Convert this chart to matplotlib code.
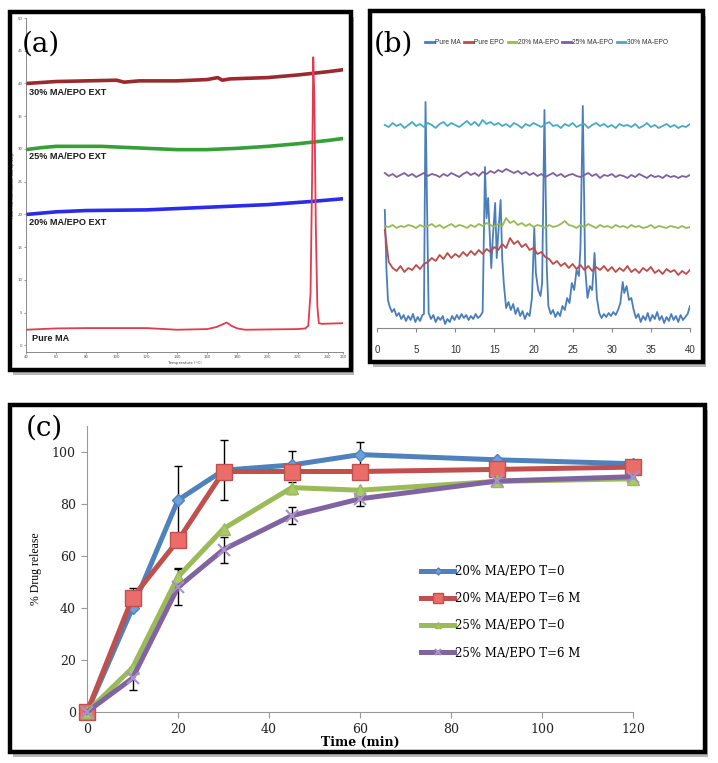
import numpy as np
import matplotlib
matplotlib.use('Agg')
import matplotlib.pyplot as plt
from matplotlib.patches import Rectangle

W, H = 718, 763

# ---- (a) DSC thermograms ----
dsc30_t = [40, 60, 80, 100, 105, 115, 140, 160, 167, 170, 175, 200, 220, 240, 250]
dsc30_y = [40.0, 40.3, 40.4, 40.5, 40.2, 40.4, 40.4, 40.6, 40.9, 40.5, 40.7, 40.9, 41.3, 41.8, 42.1]
dsc25_t = [40, 50, 60, 90, 110, 140, 160, 180, 200, 220, 240, 250]
dsc25_y = [29.9, 30.2, 30.4, 30.4, 30.2, 29.9, 29.9, 30.1, 30.4, 30.8, 31.3, 31.6]
dsc20_t = [40, 60, 80, 120, 160, 200, 230, 250]
dsc20_y = [20.0, 20.4, 20.6, 20.7, 21.1, 21.5, 22.0, 22.4]
ma_t = [40, 60, 80, 120, 140, 160, 166, 170, 173, 176, 180, 185, 220, 225, 227, 228.5,
        229.5, 230.3, 231, 232, 233, 234, 236, 250]
ma_y = [2.4, 2.6, 2.65, 2.65, 2.4, 2.5, 2.8, 3.2, 3.5, 3.0, 2.6, 2.4, 2.5, 2.6, 3.0, 8.0,
        25.0, 44.0, 38.0, 18.0, 6.0, 3.4, 3.3, 3.4]

# ---- (b) XRD patterns ----
xrd_x = np.arange(1.0, 40.01, 0.5)
xrd_30 = [203, 201, 205, 202, 204, 200, 203, 206, 202, 204, 201, 205, 203, 200, 204, 206, 202, 205, 203, 201,
          204, 207, 203, 206, 202, 208, 204, 206, 203, 205, 202, 204, 201, 205, 203, 200, 204, 202, 205, 203,
          201, 204, 206, 202, 203, 200, 204, 202, 205, 201, 203, 204, 200, 203, 205, 202, 204, 201, 203, 200,
          204, 202, 203, 201, 204, 200, 202, 205, 201, 203, 200, 202, 204, 201, 203, 200, 202, 201, 204]
xrd_25 = [155, 152, 154, 151, 153, 155, 152, 154, 151, 153, 155, 152, 154, 153, 151, 154, 152, 155, 153, 151,
          154, 156, 153, 155, 152, 156, 154, 157, 155, 158, 156, 159, 157, 155, 157, 154, 156, 153, 155, 152,
          154, 151, 153, 155, 152, 154, 151, 153, 154, 152, 151, 153, 155, 152, 154, 150, 153, 152, 154, 151,
          153, 152, 150, 153, 151, 154, 152, 150, 153, 151, 152, 150, 153, 151, 152, 150, 152, 151, 153]
xrd_20 = [102, 101, 103, 100, 102, 101, 103, 102, 100, 103, 101, 102, 104, 101, 103, 100, 102, 104, 101, 103,
          102, 100, 103, 101, 104, 102, 105, 103, 101, 104, 102, 110, 105, 107, 103, 105, 102, 104, 101, 103,
          102, 100, 103, 101, 102, 104, 107, 103, 102, 100, 103, 101, 104, 102, 100, 103, 101, 102, 100, 103,
          101, 102, 100, 103, 101, 102, 100, 101, 103, 100, 102, 101, 100, 102, 101, 100, 102, 100, 101]
xrd_epo = [98, 66, 60, 57, 62, 56, 60, 58, 63, 59, 64, 66, 70, 67, 73, 69, 75, 70, 74, 71,
           76, 72, 77, 73, 78, 74, 79, 76, 81, 78, 84, 80, 90, 84, 87, 81, 84, 78, 80, 74,
           76, 71, 69, 64, 67, 62, 65, 60, 64, 59, 63, 58, 62, 57, 61, 58, 62, 57, 61, 56,
           60, 57, 62, 56, 59, 55, 60, 57, 61, 55, 58, 54, 59, 56, 58, 53, 57, 54, 58]
ma_x = [1.0, 1.2, 1.4, 1.6, 1.9, 2.2, 2.5, 2.8, 3.1, 3.4, 3.7, 4.0, 4.3, 4.6, 4.9, 5.2, 5.5, 5.8,
        6.0, 6.2, 6.4, 6.6, 6.9, 7.2, 7.5, 7.8, 8.1, 8.4, 8.7, 9.0, 9.3, 9.6, 9.9, 10.2, 10.5, 10.8,
        11.1, 11.4, 11.7, 12.0, 12.3, 12.6, 12.9, 13.2, 13.5, 13.8, 14.0, 14.2, 14.4, 14.6, 14.8,
        15.1, 15.3, 15.5, 15.8, 16.0, 16.2, 16.5, 16.8, 17.1, 17.4, 17.7, 18.0, 18.3, 18.6, 18.9,
        19.2, 19.5, 19.8, 20.1, 20.3, 20.6, 20.9, 21.1, 21.4, 21.7, 21.9, 22.2, 22.5, 22.8, 23.1,
        23.4, 23.7, 24.0, 24.3, 24.6, 24.9, 25.2, 25.5, 25.8, 26.0, 26.3, 26.6, 26.9, 27.2, 27.5,
        27.8, 28.1, 28.4, 28.7, 29.0, 29.3, 29.6, 29.9, 30.2, 30.5, 30.8, 31.1, 31.4, 31.6, 31.9,
        32.2, 32.5, 32.8, 33.1, 33.4, 33.7, 34.0, 34.3, 34.6, 34.9, 35.2, 35.5, 35.8, 36.1, 36.4,
        36.7, 37.0, 37.3, 37.6, 37.9, 38.2, 38.5, 38.8, 39.1, 39.4, 39.7, 40.0]
ma_i = [118, 60, 28, 22, 16, 19, 12, 15, 9, 13, 7, 12, 8, 14, 6, 11, 7, 13,
        14, 226, 120, 15, 9, 13, 6, 11, 8, 12, 4, 9, 6, 12, 8, 13, 9, 14,
        10, 13, 8, 12, 9, 14, 10, 12, 16, 161, 110, 130, 95, 60, 90,
        125, 70, 95, 128, 70, 45, 20, 26, 18, 24, 14, 20, 12, 17, 9,
        15, 12, 30, 100, 55, 38, 32, 45, 218, 60, 22, 14, 18, 11, 16,
        12, 22, 18, 30, 25, 45, 38, 58, 52, 80, 222, 60, 30, 42, 38,
        75, 30, 15, 10, 14, 11, 15, 12, 16, 13, 18, 25, 46, 35, 42,
        28, 30, 18, 10, 14, 6, 12, 8, 15, 7, 13, 9, 16, 8, 12,
        5, 11, 7, 14, 8, 12, 6, 13, 8, 11, 14, 22]

# ---- (c) drug release ----
time_min = [0, 10, 20, 30, 45, 60, 90, 120]
rel_20_t0 = [0, 40, 81.5, 93, 95, 99, 97, 95.5]
rel_20_6m = [0, 44, 66, 92.5, 92.5, 92.5, 93.3, 94.2]
rel_25_t0 = [0, 17, 52, 70.5, 86.3, 85.3, 88.7, 89.7]
rel_25_6m = [0, 13, 48, 62.5, 75.5, 82, 88.8, 90.5]
err_20_t0 = [0, 0, 13, 11.6, 5.5, 5, 0, 0]
err_20_6m = [0, 3.7, 0, 0, 0, 0, 0, 0]
err_25_t0 = [0, 0, 3.5, 0, 2.3, 0, 0, 0]
err_25_6m = [0, 4.5, 7, 5, 3.3, 2.8, 0, 0]
rel_labels = ['20% MA/EPO T=0', '20% MA/EPO T=6 M', '25% MA/EPO T=0', '25% MA/EPO T=6 M']

NARROW = ['DejaVu Sans Condensed', 'Liberation Sans Narrow', 'Liberation Sans']
SERIF = ['DejaVu Serif']


def px_rect(x0, y0, x1, y1):
    return [x0 / W, 1 - y1 / H, (x1 - x0) / W, (y1 - y0) / H]


def frame(fig, x0, y0, x1, y1):
    # shadow, white card, black border
    fig.add_artist(Rectangle(((x0 + 3) / W, 1 - (y1 + 5) / H), (x1 - x0) / W, (y1 - y0) / H,
                             transform=fig.transFigure, fc='#b8b8b8', ec='none', zorder=-3))
    fig.add_artist(Rectangle((x0 / W, 1 - y1 / H), (x1 - x0) / W, (y1 - y0) / H,
                             transform=fig.transFigure, fc='white', ec='none', zorder=-2))
    fig.add_artist(Rectangle((x0 / W, 1 - y1 / H), (x1 - x0) / W, (y1 - y0) / H,
                             transform=fig.transFigure, fill=False, ec='black', lw=3.2, zorder=20))


fig = plt.figure(figsize=(W / 100, H / 100), dpi=100)
frame(fig, 10, 12, 351, 370)
frame(fig, 370, 11, 703, 362)
frame(fig, 10, 405, 705, 752)

# ---------- panel (a) ----------
axA = fig.add_axes(px_rect(26, 18, 343, 352))
axA.patch.set_alpha(0)
axA.plot(dsc30_t, dsc30_y, color='#9a2a2e', lw=2.6)
axA.plot(dsc25_t, dsc25_y, color='#35a035', lw=2.6)
axA.plot(dsc20_t, dsc20_y, color='#2b2bea', lw=2.6)
axA.plot(ma_t, ma_y, color='#e23a50', lw=1.3)
axA.set_xlim(40, 250)
axA.set_ylim(-1, 50)
axA.set_xticks([40, 60, 80, 100, 120, 140, 160, 180, 200, 220, 240, 250])
axA.set_yticks(range(0, 51, 5))
axA.tick_params(labelsize=2.8, length=1.5, width=0.4, colors='#555555', pad=1)
for s in ['top', 'right']:
    axA.spines[s].set_visible(False)
for s in ['left', 'bottom']:
    axA.spines[s].set_color('#777777')
    axA.spines[s].set_linewidth(0.6)
axA.set_xlabel('Temperature (°C)', fontsize=2.8, labelpad=1, color='#444444')
axA.set_ylabel('Heat Flow (Normalized) Exo Up (W/g)', fontsize=2.5, labelpad=2, color='#444444')
lab = dict(fontsize=6.6, fontweight='bold', family=NARROW, stretch='condensed',
           color='#1a1a1a', va='center')
axA.text(42, 38.7, '30% MA/EPO EXT', **lab)
axA.text(42, 28.8, '25% MA/EPO EXT', **lab)
axA.text(42, 18.7, '20% MA/EPO EXT', **lab)
axA.text(44, 1.1, 'Pure MA', **lab)
fig.text(22 / W, 1 - 44 / H, '(a)', fontsize=20, family=SERIF, va='center')

# ---------- panel (b) ----------
axB = fig.add_axes(px_rect(377, 60, 690, 328))
axB.patch.set_alpha(0)
hb = []
hb += axB.plot(ma_x, ma_i, color='#4a7ebb', lw=1.3, label='Pure MA')
hb += axB.plot(xrd_x, xrd_epo, color='#be4b48', lw=1.3, label='Pure EPO')
hb += axB.plot(xrd_x, xrd_20, color='#98b954', lw=1.3, label='20% MA-EPO')
hb += axB.plot(xrd_x, xrd_25, color='#7d60a0', lw=1.3, label='25% MA-EPO')
hb += axB.plot(xrd_x, xrd_30, color='#46aac5', lw=1.3, label='30% MA-EPO')
axB.set_xlim(0, 40)
axB.set_ylim(0, 268)
axB.set_xticks(range(0, 41, 5))
axB.set_yticks([])
for s in ['top', 'right', 'left']:
    axB.spines[s].set_visible(False)
axB.spines['bottom'].set_color('#888888')
axB.tick_params(axis='x', labelsize=7, length=3, color='#888888', labelcolor='#333333', pad=9)
for t in axB.get_xticklabels():
    t.set_family(NARROW)
    t.set_stretch('condensed')
legB = fig.legend(handles=hb, ncol=5, loc='center left', bbox_to_anchor=(422 / W, 1 - 43 / H),
                  frameon=False, prop={'family': NARROW, 'size': 4.8, 'stretch': 'condensed'},
                  handlelength=1.3, handletextpad=0.2, columnspacing=0.5, borderpad=0)
for t in legB.get_texts():
    t.set_color('#333333')
for l in legB.get_lines():
    l.set_linewidth(2)
fig.text(374 / W, 1 - 44 / H, '(b)', fontsize=20, family=SERIF, va='center')

# ---------- panel (c) ----------
axC = fig.add_axes(px_rect(87, 426, 633, 712))
axC.patch.set_alpha(0)
series = [
    (rel_20_t0, err_20_t0, '#4f81bd', dict(marker='D', ms=6, mfc='#6d9fdc', mec='#4f81bd')),
    (rel_20_6m, err_20_6m, '#c0504d', dict(marker='s', ms=11, mfc='#ea6d6a', mec='#c0504d')),
    (rel_25_t0, err_25_t0, '#9bbb59', dict(marker='^', ms=8, mfc='#a9c96a', mec='#9bbb59')),
    (rel_25_6m, err_25_6m, '#8064a2', dict(marker='x', ms=8, mec='#a892c6', mew=1.5)),
]
t = np.array(time_min)
for (vals, err, col, mk), lbl in zip(series, rel_labels):
    v = np.array(vals)
    e = np.array(err)
    m = e > 0
    axC.errorbar(t[m], v[m], yerr=e[m], fmt='none', ecolor='black', elinewidth=1,
                 capsize=3, capthick=1, zorder=2)
    axC.plot(t, v, color=col, lw=3.6, label=lbl, clip_on=False, zorder=3, **mk)
axC.set_xlim(0, 120)
axC.set_ylim(0, 110)
axC.set_xticks(range(0, 121, 20))
axC.set_yticks(range(0, 101, 20))
for s in ['top', 'right']:
    axC.spines[s].set_visible(False)
for s in ['left', 'bottom']:
    axC.spines[s].set_color('#999999')
axC.tick_params(labelsize=9, length=4, color='#999999', labelcolor='#222222', pad=4)
for tl in axC.get_xticklabels() + axC.get_yticklabels():
    tl.set_family(SERIF)
axC.set_xlabel('Time (min)', fontsize=9, fontweight='bold', family=SERIF, labelpad=0)
axC.set_ylabel('% Drug release', fontsize=8.5, family=['Liberation Serif'], labelpad=7)
legC = axC.legend(loc='upper left', bbox_to_anchor=(421 / W, 1 - 565 / H), bbox_transform=fig.transFigure,
                  frameon=False, prop={'family': SERIF, 'size': 8.5}, handlelength=2.8,
                  handletextpad=0.05, labelspacing=1.2, borderpad=0, borderaxespad=0, markerscale=0.6)
fig.text(26 / W, 1 - 428 / H, '(c)', fontsize=20, family=SERIF, va='center')

fig.savefig('out.png', dpi=100)
